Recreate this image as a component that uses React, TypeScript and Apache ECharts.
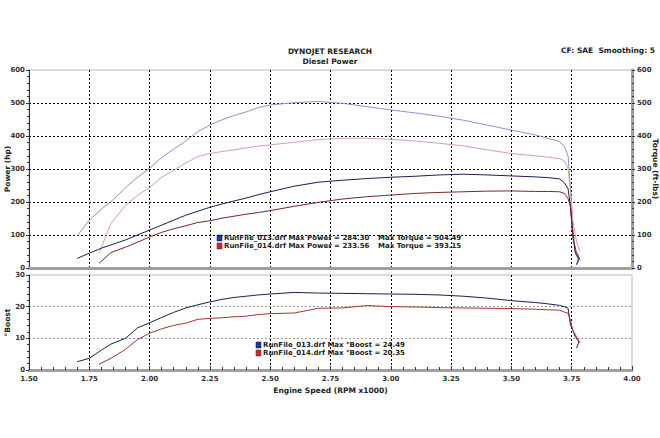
import React, { useEffect, useRef } from "react";
import * as echarts from "echarts";

// Run 013 (blue)
const rpm013 = [1.70, 1.75, 1.80, 1.84, 1.90, 1.95, 2.00, 2.05, 2.10, 2.15, 2.20, 2.25, 2.30, 2.35, 2.40, 2.45, 2.50, 2.60, 2.70, 2.80, 2.90, 3.00, 3.10, 3.20, 3.30, 3.40, 3.50, 3.60, 3.65, 3.70, 3.72, 3.735, 3.745, 3.755, 3.765, 3.78, 3.77];
const torque013 = [97, 145, 178, 201, 243, 275, 302, 335, 360, 385, 413, 433, 449, 462, 473, 486, 494, 501, 504.5, 499, 489, 479, 470, 460, 448, 433, 418, 403, 393, 383, 368, 340, 236, 120, 50, 40, 10];
const power013 = [29, 45, 60, 70, 85, 100, 115, 130, 145, 160, 172, 184, 194, 203, 212, 222, 231, 248, 260, 266, 271, 275, 278, 282, 284.3, 282, 279, 276, 274, 270, 258, 240, 186, 100, 45, 25, 10];
const boost013 = [2.6, 3.7, 6.3, 8.2, 10.0, 13.3, 14.9, 16.6, 18.2, 19.6, 20.6, 21.5, 22.3, 22.9, 23.3, 23.7, 24.0, 24.49, 24.3, 24.2, 24.1, 24.0, 23.9, 23.7, 23.3, 22.7, 21.9, 21.3, 20.9, 20.4, 20.0, 19.5, 14.2, 12.5, 10.5, 8.9, 6.9];

// Run 014 (red)
const rpm014 = [1.79, 1.84, 1.90, 1.95, 2.00, 2.05, 2.10, 2.15, 2.20, 2.25, 2.30, 2.35, 2.40, 2.45, 2.50, 2.60, 2.70, 2.80, 2.90, 3.00, 3.10, 3.20, 3.30, 3.40, 3.50, 3.60, 3.65, 3.70, 3.72, 3.735, 3.745, 3.755, 3.77, 3.785];
const torque014 = [44, 135, 190, 220, 244, 275, 296, 318, 338, 347, 353, 358, 364, 369, 373, 381, 389, 393.15, 393, 390, 385, 378, 370, 358, 347, 340, 336, 331, 325, 300, 236, 140, 80, 50];
const power014 = [14, 47, 63, 78, 94, 108, 119, 128, 138, 143, 151, 157, 163, 168, 174, 187, 199, 209, 216, 221, 226, 229, 231, 233, 233.56, 232, 232, 231, 226, 210, 186, 90, 45, 25];
const boost014 = [1.8, 3.7, 6.5, 9.6, 11.6, 13.0, 14.1, 14.8, 16.0, 16.3, 16.5, 16.8, 17.0, 17.5, 17.8, 18.0, 19.5, 19.6, 20.35, 20.0, 19.9, 19.7, 19.6, 19.5, 19.4, 19.2, 19.0, 18.9, 18.3, 17.9, 15.6, 12.5, 10.5, 8.5];

const legendTop = [
  { file: "RunFile_013.drf", power: "284.30", torque: "504.49" },
  { file: "RunFile_014.drf", power: "233.56", torque: "393.15" },
];
const legendBoost = [
  { file: "RunFile_013.drf", boost: "24.49" },
  { file: "RunFile_014.drf", boost: "20.35" },
];

const zip = (xs: number[], ys: number[]) => xs.map((x, i) => [x, ys[i]]);

const FONT = "DejaVu Sans";

export default function App() {
  const ref = useRef<HTMLDivElement>(null);
  useEffect(() => {
    if (!ref.current) return;
    const chart = echarts.init(ref.current, undefined, { renderer: "svg" });
    const axisLabel = { fontFamily: FONT, fontSize: 7, fontWeight: "bold" as const, color: "#333" };
    const dotted = { show: true, showMinLine: false, showMaxLine: false, lineStyle: { color: "#000", width: 1, type: [2, 2] as any } };
    const lineS = (name: string, data: number[][], color: string, xi: number, yi: number) => ({
      name, type: "line", data, xAxisIndex: xi, yAxisIndex: yi, showSymbol: false, symbol: "none",
      lineStyle: { color, width: 1 }, itemStyle: { color }, silent: true,
    });
    const nameStyle = { fontFamily: FONT, fontSize: 7.5, fontWeight: "bold" as const, color: "#222" };
    const legTxt = { fontFamily: FONT, fontSize: 7, fontWeight: "bold" as const, fill: "#222" };
    chart.setOption({
      animation: false,
      backgroundColor: "#fff",
      grid: [
        { left: 29, right: 28, top: 70, height: 198, outerBoundsMode: "none", containLabel: false, show: true, borderColor: "#b8b8b8", borderWidth: 1, backgroundColor: "#fff" },
        { left: 29, right: 28, top: 275, height: 95, outerBoundsMode: "none", containLabel: false, show: true, borderColor: "#b8b8b8", borderWidth: 1, backgroundColor: "#fff" },
      ],
      xAxis: [
        {
          type: "value", gridIndex: 0, min: 1.5, max: 4, interval: 0.25,
          axisLine: { show: true, onZero: false, lineStyle: { color: "#a0a0a0", width: 3 } },
          axisTick: { show: false }, axisLabel: { show: false }, splitLine: dotted,
        },
        {
          type: "value", gridIndex: 1, min: 1.5, max: 4, interval: 0.25,
          name: "Engine Speed (RPM x1000)", nameLocation: "middle", nameGap: 16, nameMoveOverlap: false,
          nameTextStyle: nameStyle,
          axisLine: { show: true, onZero: false, lineStyle: { color: "#a0a0a0", width: 3 } },
          axisTick: { show: true, inside: true, length: 4, lineStyle: { color: "#333" } },
          minorTick: { show: true, splitNumber: 5, length: 3, lineStyle: { color: "#333" } },
          axisLabel: { ...axisLabel, margin: 5, formatter: (v: number) => v.toFixed(2) },
          splitLine: dotted,
        },
      ],
      yAxis: [
        {
          type: "value", gridIndex: 0, min: 0, max: 600, interval: 100, position: "left",
          name: "Power (hp)", nameLocation: "middle", nameGap: 18, nameMoveOverlap: false,
          nameTextStyle: nameStyle,
          axisLine: { show: true, onZero: false, lineStyle: { color: "#333", width: 1 } },
          axisTick: { show: true, length: 3, lineStyle: { color: "#333" } },
          minorTick: { show: true, splitNumber: 5, length: 2, lineStyle: { color: "#333" } },
          axisLabel: { ...axisLabel, margin: 4 },
          splitLine: dotted,
        },
        {
          type: "value", gridIndex: 0, min: 0, max: 600, interval: 100, position: "right",
          name: "Torque (ft-lbs)", nameLocation: "middle", nameGap: 19, nameRotate: -90, nameMoveOverlap: false,
          nameTextStyle: nameStyle,
          axisLine: { show: true, onZero: false, lineStyle: { color: "#a0a0a0", width: 3 } },
          axisTick: { show: true, length: 3, lineStyle: { color: "#333" } },
          minorTick: { show: true, splitNumber: 5, length: 2, lineStyle: { color: "#333" } },
          axisLabel: { ...axisLabel, margin: 5 },
          splitLine: { show: false },
        },
        {
          type: "value", gridIndex: 1, min: 0, max: 30, interval: 10, position: "left",
          name: "°Boost", nameLocation: "middle", nameGap: 18, nameMoveOverlap: false,
          nameTextStyle: nameStyle,
          axisLine: { show: true, onZero: false, lineStyle: { color: "#333", width: 1 } },
          axisTick: { show: true, length: 3, lineStyle: { color: "#333" } },
          minorTick: { show: true, splitNumber: 5, length: 2, lineStyle: { color: "#333" } },
          axisLabel: { ...axisLabel, margin: 4 },
          splitLine: { show: true, showMinLine: false, showMaxLine: false, lineStyle: { color: "#999", width: 1, type: [2, 2] } },
        },
      ],
      series: [
        lineS("Torque 013", zip(rpm013, torque013), "#8f8fd2", 0, 1),
        lineS("Torque 014", zip(rpm014, torque014), "#d4a0a0", 0, 1),
        lineS("Power 013", zip(rpm013, power013), "#1e1e52", 0, 0),
        lineS("Power 014", zip(rpm014, power014), "#7c2424", 0, 0),
        lineS("Boost 013", zip(rpm013, boost013), "#1e1e52", 1, 2),
        lineS("Boost 014", zip(rpm014, boost014), "#a83232", 1, 2),
      ],
      graphic: [
        { type: "text", left: "center", top: 47, style: { text: "DYNOJET RESEARCH", fontFamily: FONT, fontSize: 7.5, fontWeight: "bold", fill: "#222" } },
        { type: "text", left: "center", top: 57, style: { text: "Diesel Power", fontFamily: FONT, fontSize: 7.5, fontWeight: "bold", fill: "#222" } },
        { type: "text", right: 5, top: 46, style: { text: "CF: SAE  Smoothing: 5", fontFamily: FONT, fontSize: 7.5, fontWeight: "bold", fill: "#222" } },
        ...legendTop.flatMap((l, i) => [
          { type: "rect", shape: { x: 217, y: 235 + i * 8, width: 5, height: 6 }, style: { fill: i === 0 ? "#2030b0" : "#c03030", stroke: i === 0 ? "#101060" : "#701010", lineWidth: 0.5 } },
          { type: "text", x: 224, y: 234 + i * 8, style: { ...legTxt, text: `${l.file} Max Power = ${l.power}` } },
          { type: "text", x: 378, y: 234 + i * 8, style: { ...legTxt, text: `Max Torque = ${l.torque}` } },
        ]),
        ...legendBoost.flatMap((l, i) => [
          { type: "rect", shape: { x: 256, y: 342 + i * 8, width: 5, height: 6 }, style: { fill: i === 0 ? "#2030b0" : "#c03030", stroke: i === 0 ? "#101060" : "#701010", lineWidth: 0.5 } },
          { type: "text", x: 263, y: 341 + i * 8, style: { ...legTxt, text: `${l.file} Max °Boost = ${l.boost}` } },
        ]),
      ],
    } as any);
    return () => chart.dispose();
  }, []);
  return <div ref={ref} style={{ position: "fixed", left: 0, top: 0, width: 660, height: 438 }} />;
}
